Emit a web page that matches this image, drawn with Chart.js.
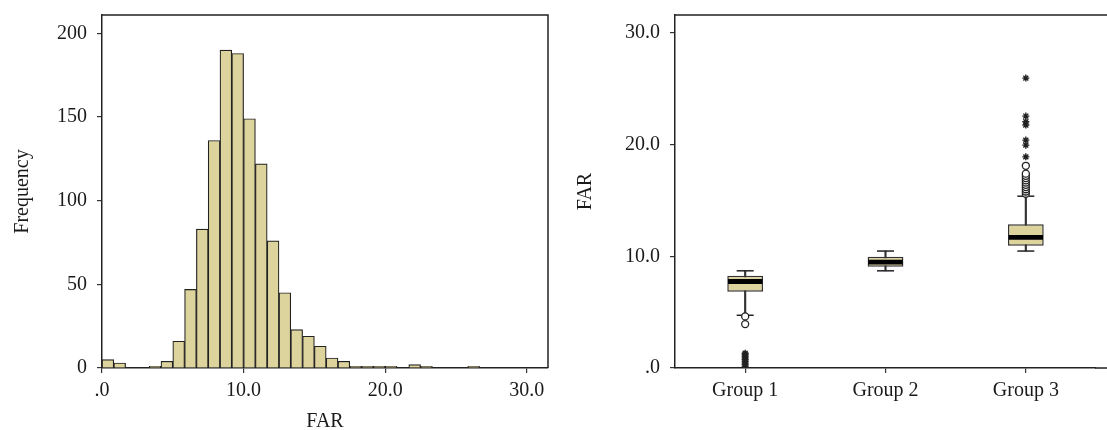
<!DOCTYPE html>
<html>
<head>
<meta charset="utf-8">
<title>FAR histogram and box plot</title>
<script src="https://cdn.jsdelivr.net/npm/chart.js@4.4.1/dist/chart.umd.min.js"></script>
<style>
  body { margin: 0; background: #fff; }
  #wrap { position: relative; width: 1107px; height: 430px; }
  #histogram { position: absolute; left: 0; top: 0; }
  #boxplot { position: absolute; left: 560px; top: 0; }
</style>
</head>
<body>
<div id="wrap">
  <canvas id="histogram" width="560" height="430"></canvas>
  <canvas id="boxplot" width="547" height="430"></canvas>
</div>
<script>
// histogram: 36 bins of equal width over 0..30
const binWidth = 30 / 36;
const frequencies = [5, 3, 0, 0, 1, 4, 16, 47, 83, 136, 190, 188, 149, 122, 76, 45, 23, 19, 13, 6, 4, 1, 1, 1, 1, 0, 2, 1, 0, 0, 0, 1, 0, 0, 0, 0];
const freqTicks = [0, 50, 100, 150, 200];
const farTicks = [0, 10, 20, 30];

// box plot per group
const groups = ['Group 1', 'Group 2', 'Group 3'];
const whiskerLow = [4.72, 8.70, 10.47];
const q1 = [6.82, 9.06, 10.94];
const medians = [7.75, 9.48, 11.69];
const q3 = [8.26, 9.96, 12.86];
const whiskerHigh = [8.70, 10.47, 15.38];
const mildOutliers = [[4.62, 3.93], [], [15.6, 15.8, 16.0, 16.2, 16.4, 16.6, 16.8, 17.0, 17.2, 17.4, 18.1]];
const extremeOutliers = [[0.15, 0.3, 0.45, 0.6, 0.75, 0.9, 1.05, 1.2, 1.32], [], [18.9, 19.95, 20.4, 21.75, 22.05, 22.55, 25.95]];

const fill = '#DDD39D';
const ink = '#222';

Chart.defaults.font.family = "'Liberation Serif', 'Times New Roman', serif";
Chart.defaults.font.size = 20;
Chart.defaults.color = '#1a1a1a';

function farLabel(v) {
    return v === 0 ? '.0' : v.toFixed(1);
}

// draws the frame lines that are not axes
const framePlugin = {
    id: 'frame',
    afterDraw(chart, args, opts) {
        const a = chart.chartArea;
        const ctx = chart.ctx;
        const right = opts.extend ? chart.width : a.right;
        ctx.save();
        ctx.strokeStyle = ink;
        ctx.lineWidth = 1.5;
        ctx.beginPath();
        ctx.moveTo(a.left, a.top);
        ctx.lineTo(right, a.top);
        if (opts.extend) {
            ctx.moveTo(a.right - 1, a.bottom);
            ctx.lineTo(right, a.bottom);
        } else {
            ctx.lineTo(a.right, a.bottom);
        }
        ctx.stroke();
        ctx.restore();
    }
};

const axisGrid = { drawOnChartArea: false, drawTicks: true, tickLength: 5, color: '#333', lineWidth: 1.2 };
const axisBorder = { display: true, color: ink, width: 1.5 };

// fixed axis sizes so both panels line up with the original
function fixY(width) {
    return s => { s.width = width; s.paddingTop = 0; s.paddingBottom = 0; };
}

new Chart(document.getElementById('histogram'), {
    type: 'bar',
    data: {
        datasets: [{
            data: frequencies.map((f, i) => ({ x: (i + 0.5) * binWidth, y: f === 0 ? null : f })),
            backgroundColor: fill,
            borderColor: ink,
            borderWidth: 1.2,
            barPercentage: 1,
            categoryPercentage: 1
        }]
    },
    options: {
        responsive: false,
        animation: false,
        layout: { padding: { top: 15, right: 12, left: 0, bottom: 0 } },
        plugins: { legend: { display: false }, tooltip: { enabled: false }, frame: {} },
        scales: {
            x: {
                type: 'linear',
                offset: false,
                min: 0,
                max: 31.5,
                afterBuildTicks: s => { s.ticks = farTicks.map(v => ({ value: v })); },
                afterFit: s => { s.height = 62; },
                ticks: { padding: 6, callback: farLabel, maxRotation: 0 },
                grid: Object.assign({}, axisGrid, { offset: false }),
                border: axisBorder,
                title: { display: true, text: 'FAR', font: { size: 20, lineHeight: 1 }, padding: { top: 0, bottom: -2 } }
            },
            y: {
                min: 0,
                max: 211,
                afterBuildTicks: s => { s.ticks = freqTicks.map(v => ({ value: v })); },
                afterFit: fixY(102),
                ticks: { padding: 10 },
                grid: axisGrid,
                border: axisBorder,
                title: { display: true, text: 'Frequency', font: { size: 20, lineHeight: 1 }, padding: { top: 13, bottom: 0 } }
            }
        }
    },
    plugins: [framePlugin]
});

// box plot built from floating bars and point datasets
const boxDatasets = [
    {
        type: 'line',
        order: -1,
        data: groups.flatMap((g, i) => extremeOutliers[i].map(v => ({ x: g, y: v }))),
        showLine: false,
        pointStyle: 'star',
        pointRadius: 3.5,
        borderColor: ink,
        borderWidth: 1.4
    },
    {
        type: 'line',
        order: -1,
        data: groups.flatMap((g, i) => mildOutliers[i].map(v => ({ x: g, y: v }))),
        showLine: false,
        pointStyle: 'circle',
        pointRadius: 3.5,
        backgroundColor: '#fff',
        borderColor: ink,
        borderWidth: 1.3
    },
    {
        type: 'line',
        order: 0,
        data: groups.flatMap((g, i) => [{ x: g, y: whiskerLow[i] }, { x: g, y: whiskerHigh[i] }]),
        showLine: false,
        pointStyle: 'line',
        pointRadius: 8.5,
        borderColor: ink,
        borderWidth: 1.5
    },
    {
        order: 1,
        data: medians.map(m => [m - 0.22, m + 0.22]),
        backgroundColor: '#000',
        borderWidth: 0,
        grouped: false,
        barPercentage: 0.245,
        categoryPercentage: 1
    },
    {
        order: 2,
        data: q1.map((v, i) => [v, q3[i]]),
        backgroundColor: fill,
        borderColor: '#333',
        borderWidth: 1.5,
        borderSkipped: false,
        grouped: false,
        barPercentage: 0.255,
        categoryPercentage: 1
    },
    {
        order: 3,
        data: whiskerLow.map((v, i) => [v, whiskerHigh[i]]),
        backgroundColor: '#333',
        borderWidth: 0,
        grouped: false,
        barThickness: 1.5
    }
];

new Chart(document.getElementById('boxplot'), {
    type: 'bar',
    data: { labels: groups, datasets: boxDatasets },
    options: {
        responsive: false,
        animation: false,
        layout: { padding: { top: 15, right: 11, left: 0, bottom: 0 } },
        plugins: { legend: { display: false }, tooltip: { enabled: false }, frame: { extend: true } },
        scales: {
            x: {
                afterFit: s => { s.height = 62; },
                ticks: { padding: 6, maxRotation: 0 },
                grid: Object.assign({}, axisGrid, { offset: false }),
                border: axisBorder
            },
            y: {
                min: 0,
                max: 31.6,
                afterBuildTicks: s => { s.ticks = farTicks.map(v => ({ value: v })); },
                afterFit: fixY(115),
                ticks: { padding: 10, callback: farLabel },
                grid: axisGrid,
                border: axisBorder,
                title: { display: true, text: 'FAR', font: { size: 20, lineHeight: 1 }, padding: { top: 16, bottom: 0 } }
            }
        }
    },
    plugins: [framePlugin]
});
</script>
</body>
</html>
